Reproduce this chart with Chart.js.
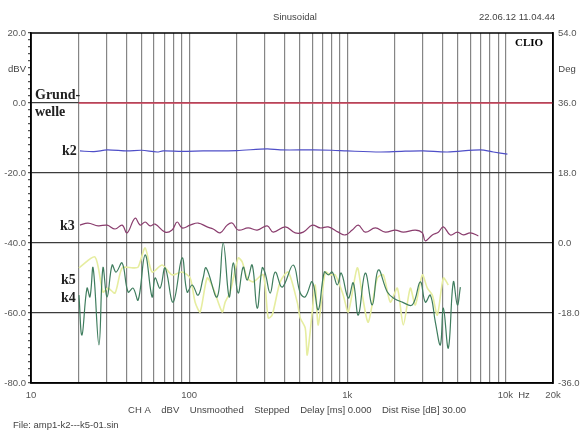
<!DOCTYPE html>
<html>
<head>
<meta charset="utf-8">
<script src="https://cdn.jsdelivr.net/npm/chart.js@4.4.0/dist/chart.umd.min.js"></script>
<style>
html, body { margin: 0; padding: 0; background: #fff; }
#wrap { width: 583px; height: 434px; }
</style>
</head>
<body>
<div id="wrap"><canvas id="clioChart" width="583" height="434"></canvas></div>
<script>
// frequency axis
const freqTicks = [10, 20, 30, 40, 50, 60, 70, 80, 90,
    100, 200, 300, 400, 500, 600, 700, 800, 900,
    1000, 2000, 3000, 4000, 5000, 6000, 7000, 8000, 9000,
    10000, 20000];
const freqLabelValues = [10, 100, 1000, 10000, 20000];
const freqLabelTexts = ['10', '100', '1k', '10k', '20k'];

// Grundwelle (fundamental)
const fundFreq = [20, 20000];
const fundLevel = [0, 0];

// k2
const k2Freq = [20.4, 25, 30.3, 40.5, 50, 62.7, 68.4, 90, 122.6, 200, 311.7, 376.6, 609.3, 800, 1000, 1618, 2200, 3027, 4295, 6947, 8395, 10297];
const k2Level = [-13.7, -13.9, -13.4, -13.7, -13.5, -14.0, -13.7, -13.8, -13.7, -13.6, -13.1, -13.4, -13.4, -13.5, -13.7, -14.0, -13.8, -13.7, -14.0, -13.4, -14.0, -14.6];

// k3
const k3Freq = [20.4, 22.9, 26.6, 30.3, 34.0, 37.7, 40.5, 45.5, 49.0, 52.7, 56.6, 60.9, 70.5, 78.0, 84.0, 90.3,
    101.5, 114, 130, 141.9, 157.1, 174, 187.1, 204.2, 236.3, 269.4, 311.7, 340.1, 405.2, 468.7, 526.8, 600.5,
    674.6, 758.2, 877.1, 971.1, 1075, 1174, 1300, 1504, 1740, 2013, 2262, 2694, 2984, 3116, 3451, 3766,
    4052, 4486, 4969, 5423, 6005, 6746];
const k3Level = [-34.9, -34.3, -35.1, -34.9, -36.0, -34.9, -37.1, -32.9, -34.9, -34.0, -35.1, -34.6, -36.9, -36.3, -34.0, -35.7,
    -34.9, -34.3, -35.4, -36.0, -37.1, -34.9, -34.3, -36.3, -35.7, -36.3, -35.1, -36.9, -35.4, -37.1, -36.9, -34.9,
    -35.7, -35.4, -36.9, -37.7, -36.3, -34.9, -36.9, -35.7, -36.9, -36.3, -36.9, -36.3, -37.1, -39.4, -37.7, -36.9,
    -35.4, -37.7, -36.9, -37.7, -37.1, -38.0];

// k4
const k4Freq = [20.1, 21.0, 22.6, 23.6, 24.7, 26.9, 28.5, 30.3, 32.6, 34.5, 37.7, 41.1, 44.2, 47.6, 52.7, 58.3,
    60.9, 65.5, 70.5, 79.2, 90.3, 97.1, 104.5, 114, 122.6, 128.1, 150.4, 164.2, 179.1, 189.9, 204.2, 219.7,
    232.9, 250.4, 269.4, 289.7, 302.7, 325.6, 350.3, 387.9, 455.3, 504.2, 542.3, 600.5, 655.3, 715.3, 758.2,
    803.7, 864.4, 916.2, 1015, 1091, 1174, 1300, 1440, 1571, 1792, 1955, 2229, 2579, 2897, 3116, 3352,
    3606, 3879, 4052, 4357, 4687, 4969, 5191];
const k4Level = [-54.9, -66.3, -52.9, -55.4, -47.1, -69.1, -47.1, -55.4, -46.3, -48.3, -45.7, -54.0, -52.9, -56.3, -43.4, -55.4,
    -50.0, -52.9, -47.1, -56.9, -44.3, -54.0, -52.0, -54.9, -50.0, -47.1, -55.4, -40.0, -55.4, -45.7, -54.3, -46.9,
    -50.6, -46.3, -58.6, -47.1, -48.6, -54.3, -48.3, -52.6, -46.3, -54.3, -55.4, -51.1, -59.1, -48.3, -49.1,
    -48.3, -52.0, -48.6, -55.7, -51.4, -60.6, -48.6, -57.7, -47.7, -54.0, -55.7, -56.9, -57.7, -51.1, -56.9, -54.9,
    -62.6, -69.1, -58.6, -70.0, -51.1, -57.7, -52.6];

// k5
const k5Freq = [20.1, 25.4, 28.5, 30.7, 34.0, 37.7, 44.2, 47.6, 52.7, 58.3, 67.5, 78.0, 90.3, 101.5, 109.1, 117.4,
    130, 141.9, 161.8, 169, 181.7, 204.2, 216.5, 232.9, 254.1, 294, 316.2, 335.1, 376.6, 423.2, 482.6, 504.2,
    542.3, 558.3, 600.5, 627.4, 655.3, 725.8, 780.3, 839.6, 943.4, 1015, 1157, 1244, 1358, 1548, 1690, 1872,
    2073, 2262, 2505, 2694, 2984, 3209, 3451, 3712, 4052, 4357];
const k5Level = [-47.1, -44.0, -54.0, -52.9, -54.3, -47.1, -47.1, -46.9, -41.4, -48.3, -46.3, -49.1, -48.3, -50.0, -56.9, -59.7,
    -50.0, -52.9, -59.7, -56.9, -54.0, -44.3, -45.4, -50.0, -51.1, -49.1, -61.4, -60.6, -51.1, -48.3, -56.9, -61.4,
    -64.3, -72.0, -59.7, -52.0, -63.4, -48.3, -49.1, -49.1, -54.9, -59.7, -47.1, -54.9, -62.6, -50.0, -49.1, -56.9,
    -52.9, -63.4, -52.9, -57.7, -49.1, -52.9, -54.9, -60.6, -50.0, -52.0];

function pairs(xs, ys) {
    return xs.map(function(x, i) { return { x: x, y: ys[i] }; });
}

const textFont = '"Liberation Sans", Arial, sans-serif';
const labelFont = 'bold 14px "Liberation Serif", "DejaVu Serif", serif';

const clioText = {
    id: 'clioText',
    afterDraw: function(chart) {
        const ctx = chart.ctx;
        const a = chart.chartArea;
        ctx.save();
        // frame
        ctx.strokeStyle = '#000';
        ctx.lineWidth = 1.5;
        ctx.strokeRect(a.left, a.top, a.right - a.left, a.bottom - a.top);

        ctx.fillStyle = '#444';
        ctx.font = '9.5px ' + textFont;
        ctx.textBaseline = 'middle';
        ctx.textAlign = 'center';
        ctx.fillText('Sinusoidal', 295, 17);
        ctx.fillText('22.06.12 11.04.44', 517, 17);
        ctx.fillText('dBV', 17, 69);
        ctx.fillText('Deg', 567, 69);
        ctx.fillText('Hz', 524, 395);
        ctx.fillText('CH A    dBV    Unsmoothed    Stepped    Delay [ms] 0.000    Dist Rise [dB] 30.00', 297, 410);
        ctx.textAlign = 'left';
        ctx.fillText('File: amp1-k2---k5-01.sin', 13, 425);

        ctx.fillStyle = '#000';
        ctx.textAlign = 'center';
        ctx.font = 'bold 11px "Liberation Serif", serif';
        ctx.fillText('CLIO', 529, 43);

        ctx.fillStyle = '#222';
        ctx.textAlign = 'left';
        ctx.font = labelFont;
        ctx.fillText('Grund-', 35, 95);
        ctx.fillText('welle', 35, 112);
        ctx.fillText('k2', 62, 151);
        ctx.fillText('k3', 60, 226);
        ctx.fillText('k5', 61, 280);
        ctx.fillText('k4', 61, 298);
        ctx.restore();
    }
};

const ctx = document.getElementById('clioChart').getContext('2d');
new Chart(ctx, {
    type: 'line',
    data: {
        datasets: [
            { label: 'Grundwelle', data: pairs(fundFreq, fundLevel), borderColor: '#d94a63', borderWidth: 1.5, pointRadius: 0 },
            { label: 'k2', data: pairs(k2Freq, k2Level), borderColor: '#4f4fc8', borderWidth: 1.2, pointRadius: 0, tension: 0.3 },
            { label: 'k3', data: pairs(k3Freq, k3Level), borderColor: '#8a3d6e', borderWidth: 1.2, pointRadius: 0, tension: 0.4 },
            { label: 'k4', data: pairs(k4Freq, k4Level), borderColor: '#3f7d5e', borderWidth: 1.2, pointRadius: 0, tension: 0.4 },
            { label: 'k5', data: pairs(k5Freq, k5Level), borderColor: '#e6eda0', borderWidth: 1.6, pointRadius: 0, tension: 0.25 }
        ]
    },
    options: {
        responsive: false,
        animation: false,
        layout: { padding: { top: 33, left: 0, right: 0, bottom: 0 } },
        plugins: {
            legend: { display: false },
            tooltip: { enabled: false }
        },
        scales: {
            x: {
                type: 'logarithmic',
                min: 10,
                max: 20000,
                afterBuildTicks: function(scale) {
                    scale.ticks = freqTicks.map(function(v) { return { value: v }; });
                },
                afterFit: function(scale) { scale.height = 51; },
                ticks: {
                    autoSkip: false,
                    maxRotation: 0,
                    padding: 7,
                    color: '#555',
                    font: { family: textFont, size: 9.5 },
                    callback: function(value) {
                        const i = freqLabelValues.indexOf(value);
                        return i >= 0 ? freqLabelTexts[i] : '';
                    }
                },
                grid: {
                    drawTicks: false,
                    lineWidth: 1.2,
                    color: function(c) {
                        const v = c.tick && c.tick.value;
                        return (v === 10 || v === 20000) ? 'rgba(0,0,0,0)' : '#858585';
                    }
                },
                border: { display: true, color: '#000', width: 1.5 }
            },
            y: {
                type: 'linear',
                position: 'left',
                min: -80,
                max: 20,
                afterFit: function(scale) { scale.width = 31; },
                ticks: {
                    stepSize: 2,
                    autoSkip: false,
                    padding: 2,
                    color: '#555',
                    font: { family: textFont, size: 9.5 },
                    callback: function(value) {
                        return Math.round(value) % 20 === 0 ? value.toFixed(1) : '';
                    }
                },
                grid: {
                    tickLength: 3,
                    tickColor: '#555',
                    lineWidth: 1.2,
                    color: function(c) {
                        const v = c.tick && Math.round(c.tick.value);
                        return (v % 20 === 0 && v !== 20 && v !== -80) ? '#3c3c3c' : 'rgba(0,0,0,0)';
                    }
                },
                border: { display: true, color: '#000', width: 1.5 }
            },
            y2: {
                type: 'linear',
                position: 'right',
                min: -36,
                max: 54,
                afterFit: function(scale) { scale.width = 30; },
                ticks: {
                    stepSize: 18,
                    padding: 5,
                    color: '#555',
                    font: { family: textFont, size: 9.5 },
                    callback: function(value) { return value.toFixed(1); }
                },
                grid: { drawOnChartArea: false, drawTicks: false },
                border: { display: true, color: '#000', width: 1.5 }
            }
        }
    },
    plugins: [clioText]
});
</script>
</body>
</html>
